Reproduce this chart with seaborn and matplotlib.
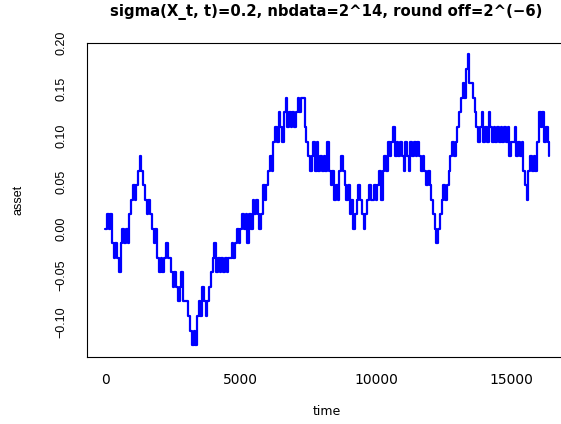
import numpy as np
import pandas as pd
import matplotlib
matplotlib.use("Agg")
import matplotlib.pyplot as plt
import seaborn as sns

# Rounded asset path, in units of the round-off step 2^(-6), sampled every 64 time steps
levels = [
    0, 1, 0, 1, -1, -2, -1, -2, -3, -1, 0, -1, 0, -1, 1, 2,
    3, 2, 3, 4, 5, 4, 3, 2, 1, 2, 1, 0, -1, 0, -2, -3,
    -2, -3, -2, -1, -2, -2, -3, -4, -3, -4, -5, -4, -3, -5, -5, -5,
    -6, -7, -8, -7, -8, -6, -5, -6, -4, -5, -6, -5, -4, -3, -2, -1,
    -3, -2, -3, -2, -3, -2, -3, -2, -2, -1, -2, -1, 0, -1, 0, 1,
    0, 1, -1, 1, 0, 2, 1, 2, 1, 0, 1, 3, 2, 3, 4, 5,
    4, 6, 7, 6, 8, 7, 6, 8, 9, 7, 8, 7, 8, 7, 8, 9,
    8, 9, 9, 7, 6, 5, 4, 5, 6, 4, 6, 4, 5, 4, 5, 4,
    6, 4, 3, 4, 2, 3, 2, 4, 5, 4, 3, 2, 3, 1, 2, 0,
    1, 2, 3, 2, 1, 0, 1, 2, 3, 2, 2, 3, 2, 3, 4, 2,
    4, 5, 4, 6, 5, 6, 7, 5, 6, 5, 6, 5, 4, 6, 5, 4,
    6, 5, 6, 5, 6, 5, 4, 5, 4, 3, 4, 3, 2, 1, 0, -1,
    0, 1, 2, 3, 2, 3, 4, 5, 6, 5, 6, 7, 8, 9, 10, 9,
    11, 12, 10, 10, 9, 8, 7, 6, 7, 8, 6, 7, 6, 8, 7, 6,
    7, 6, 7, 6, 7, 6, 7, 6, 7, 5, 6, 6, 7, 5, 6, 5,
    6, 4, 3, 2, 4, 5, 4, 5, 4, 6, 8, 7, 8, 6, 7, 6,
    5,
]
sample_step = 64
round_off = 2.0 ** -6
x_ticks = [0, 5000, 10000, 15000]
x_ticklabels = ["0", "5000", "10000", "15000"]
y_ticks = [-0.10, -0.05, 0.00, 0.05, 0.10, 0.15, 0.20]
y_ticklabels = ["\u22120.10", "\u22120.05", "0.00", "0.05", "0.10", "0.15", "0.20"]
title = "sigma(X_t, t)=0.2, nbdata=2^14, round off=2^(\u22126)"
x_label = "time"
y_label = "asset"

df = pd.DataFrame({
    "time": np.arange(len(levels)) * sample_step,
    "asset": np.array(levels) * round_off,
})

sns.set_theme(style="white")
plt.rcParams["font.family"] = ["DejaVu Sans"]

W, H = 561, 424
fig = plt.figure(figsize=(W / 100, H / 100), dpi=100)
left, right, top, bottom = 87.3, 567.0, 42.7, 356.7
ax = fig.add_axes([left / W, (H - bottom) / H, (right - left) / W, (bottom - top) / H])

sns.lineplot(data=df, x="time", y="asset", ax=ax, color="#0000ff",
             linewidth=1.6, drawstyle="steps-post", estimator=None, sort=False)

ax.set_xlim(-654.5, 17038)
ax.set_ylim(-0.1375, 0.2)
ax.set_xticks(x_ticks)
ax.set_xticklabels(x_ticklabels, fontsize=10, family="DejaVu Sans")
ax.set_yticks(y_ticks)
ax.set_yticklabels(y_ticklabels, rotation=90, va="center", ha="right",
                   fontsize=9, family=["Liberation Sans", "DejaVu Sans"])

for s in ax.spines.values():
    s.set_visible(True)
    s.set_color("black")
    s.set_linewidth(0.8)

ax.tick_params(axis="both", direction="out", length=6, width=0.8, color="black",
               labelcolor="black")
ax.tick_params(axis="x", pad=6.0)
ax.tick_params(axis="y", pad=8.0)
ax.grid(False)

ax.set_xlabel(x_label, fontsize=9, color="black")
ax.set_ylabel(y_label, fontsize=9, color="black", family=["Liberation Sans", "DejaVu Sans"])
ax.xaxis.label.set_va("center")
ax.xaxis.set_label_coords((326.7 - left) / (right - left), (bottom - 411.5) / (bottom - top))
ax.yaxis.label.set_va("center")
ax.yaxis.label.set_ha("center")
ax.yaxis.set_label_coords((18 - left) / (right - left), 0.5)

fig.text(326 / W, 1 - 11.5 / H, title, ha="center", va="center",
         fontsize=10.7, fontweight="bold", color="black")

fig.savefig("out.png", dpi=100, facecolor="white")
